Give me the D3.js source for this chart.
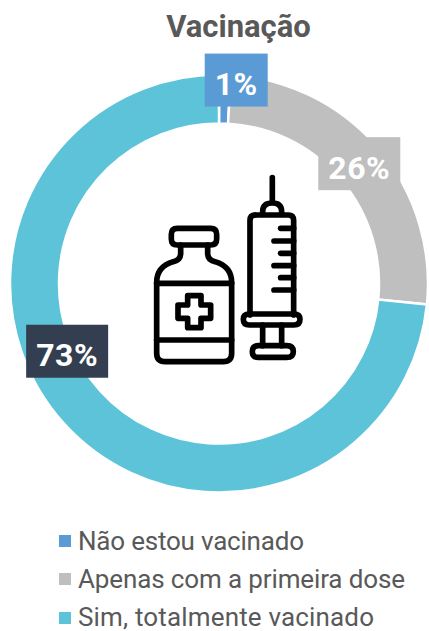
<!DOCTYPE html>
<html><head><meta charset="utf-8">
<script src="https://cdnjs.cloudflare.com/ajax/libs/d3/7.8.5/d3.min.js"></script>
<style>html,body{margin:0;padding:0;background:#fff}svg{display:block}text{font-family:Roboto,sans-serif}</style>
</head><body><div id="c"></div>
<script>
const categories=["Não estou vacinado","Apenas com a primeira dose","Sim, totalmente vacinado"];
const values=[0.9,25.7,73.4];
const labels=["1%","26%","73%"];
const colors=["#5B9BD5","#BFBFBF","#5DC3D9"];
const labelFills=["#5B9BD5","#BFBFBF","#333F50"];
const labelNudge=[[12,-19],[0,0],[-15,-56]];
const W=429,H=631,cx=219,cy=283.5,R=209,r=160;
const svg=d3.select("#c").append("svg").attr("width",W).attr("height",H);
svg.append("text").attr("x",238.5).attr("y",37).attr("text-anchor","middle")
  .attr("font-size",31).attr("font-weight",700).attr("fill","#595959").text("Vacinação");
const pie=d3.pie().sort(null)(values);
const arc=d3.arc().innerRadius(r).outerRadius(R);
const g=svg.append("g").attr("transform",`translate(${cx},${cy})`);
g.selectAll("path").data(pie).join("path").attr("d",arc).attr("fill",(d,i)=>colors[i])
  .attr("stroke","#fff").attr("stroke-width",2.5);
const icon=svg.append("g").attr("transform","translate(140,165) scale(0.3333)")
  .attr("fill","none").attr("stroke","#000").attr("stroke-width",17).attr("stroke-linecap","round").attr("stroke-linejoin","round");
[
 "M112 190H212Q230 190 230 208V222Q230 240 212 240H112Q94 240 94 222V208Q94 190 112 190Z",
 "M122 240V265Q122 285 100 290Q50 305 50 352V565Q50 590 75 590H250Q275 590 275 565V352Q275 305 225 290Q203 285 203 265V240",
 "M50 355H275","M50 525H275",
 "M143 392H183V420H212V460H183V488H143V460H114V420H143Z",
 "M397 38V108",
 "M368 148V140Q368 114 397 114Q425 114 425 140V148",
 "M345 150H445Q461 150 461 166V450","M345 150Q330 150 330 166V450",
 "M461 190H422","M461 228H402","M461 265H422","M461 302H402","M461 338H422","M461 375H402",
 "M328 447H462Q480 447 480 463Q480 480 462 480H328Q310 480 310 463Q310 447 328 447Z",
 "M368 480V542","M425 480V542",
 "M355 542H440Q460 542 460 560Q460 577 440 577H355Q337 577 337 560Q337 542 355 542Z"
].forEach(d=>icon.append("path").attr("d",d));
const bw=[63,82,82],bh=53;
pie.forEach((d,i)=>{
  const [x,y]=arc.centroid(d),px=cx+x+labelNudge[i][0],py=cy+y+labelNudge[i][1];
  svg.append("rect").attr("x",px-bw[i]/2).attr("y",py-bh/2).attr("width",bw[i]).attr("height",bh).attr("fill",labelFills[i]);
  svg.append("text").attr("x",px).attr("y",py+15).attr("text-anchor","middle").attr("font-size",32)
    .attr("font-weight",700).attr("letter-spacing",0.5).attr("fill","#fff").text(labels[i]);
});
const widths=[226,327,296];
categories.forEach((c,i)=>{
  svg.append("rect").attr("x",59).attr("y",[535,573,612][i]).attr("width",12).attr("height",12).attr("fill",colors[i]);
  svg.append("text").attr("x",78).attr("y",[550,588,626][i]).attr("font-size",26).attr("fill","#595959")
    .attr("textLength",widths[i]).attr("lengthAdjust","spacing").text(c);
});
</script></body></html>
